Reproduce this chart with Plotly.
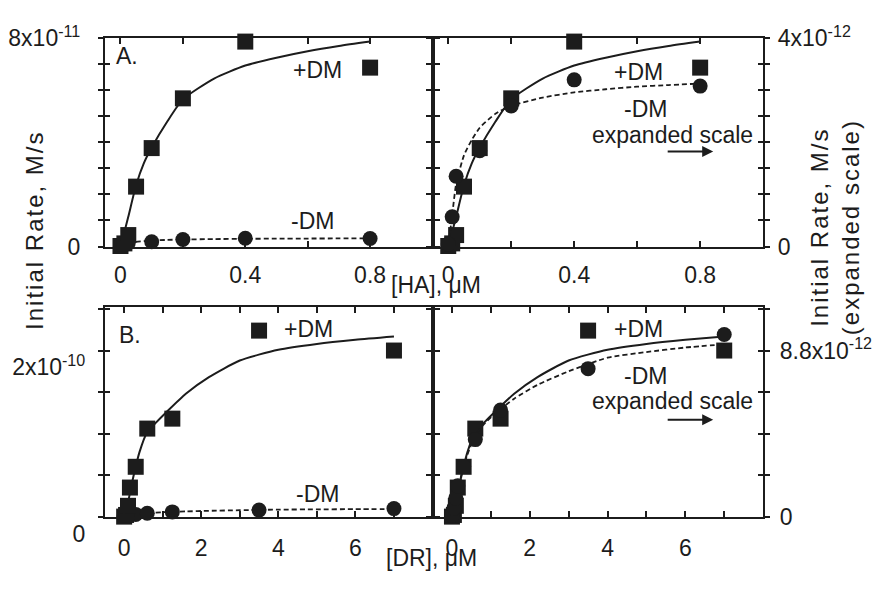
import plotly.graph_objects as go

# ---------------- data ----------------
# Panel A: initial rate vs [HA] (uM)
ha_plus_x = [0, 0.0125, 0.025, 0.05, 0.1, 0.2, 0.4, 0.8]
ha_plus_y = [0.02e-11, 0.12e-11, 0.44e-11, 2.30e-11, 3.78e-11, 5.69e-11, 7.87e-11, 6.87e-11]
ha_minus_x = [0, 0.0125, 0.025, 0.1, 0.2, 0.4, 0.8]
ha_minus_y = [0.05e-12, 0.57e-12, 1.35e-12, 1.84e-12, 2.70e-12, 3.20e-12, 3.08e-12]
ha_plus_fit_x = [0, 0.01, 0.025, 0.05, 0.075, 0.1, 0.15, 0.2, 0.3, 0.4, 0.5, 0.6, 0.7, 0.8]
ha_plus_fit_y = [0, 0.44e-11, 1.14e-11, 2.35e-11, 3.20e-11, 3.80e-11, 4.80e-11, 5.65e-11,
                 6.45e-11, 6.95e-11, 7.25e-11, 7.50e-11, 7.70e-11, 7.87e-11]
ha_minus_fit_x = [0, 0.0125, 0.025, 0.05, 0.075, 0.1, 0.15, 0.2, 0.3, 0.4, 0.5, 0.6, 0.7, 0.8]
ha_minus_fit_y = [0, 0.60e-12, 1.20e-12, 1.75e-12, 2.05e-12, 2.28e-12, 2.55e-12, 2.70e-12,
                  2.86e-12, 2.96e-12, 3.02e-12, 3.07e-12, 3.10e-12, 3.13e-12]

# Panel B: initial rate vs [DR] (uM)
dr_plus_x = [0, 0.05, 0.1, 0.15, 0.3, 0.6, 1.25, 3.5, 7.0]
dr_plus_y = [0, 0.02e-10, 0.13e-10, 0.35e-10, 0.60e-10, 1.06e-10, 1.18e-10, 2.24e-10, 2.00e-10]
dr_minus_x = [0, 0.05, 0.1, 0.15, 0.3, 0.6, 1.25, 3.5, 7.0]
dr_minus_y = [0.08e-12, 0.45e-12, 0.98e-12, 1.63e-12, 2.65e-12, 4.08e-12, 5.65e-12, 7.84e-12, 9.65e-12]
dr_fit_x = [0, 0.1, 0.2, 0.4, 0.6, 0.8, 1.1, 1.6, 2.2, 3.0, 4.0, 5.0, 6.0, 7.0]
dr_plus_fit_y = [0, 0.17e-10, 0.40e-10, 0.78e-10, 1.02e-10, 1.12e-10, 1.26e-10, 1.48e-10,
                 1.68e-10, 1.88e-10, 2.01e-10, 2.08e-10, 2.13e-10, 2.17e-10]
dr_minus_fit_y = [0, 1.0e-12, 1.9e-12, 3.3e-12, 4.3e-12, 4.85e-12, 5.45e-12, 6.25e-12,
                  6.98e-12, 7.70e-12, 8.42e-12, 8.72e-12, 8.96e-12, 9.13e-12]

# tick definitions
ha_ticks = [0, 0.2, 0.4, 0.6, 0.8, 1.0]
ha_ticktext = ["0", "", "0.4", "", "0.8", ""]
dr_ticks = [0, 1, 2, 3, 4, 5, 6, 7, 8]
dr_ticktext = ["0", "", "2", "", "4", "", "6", "", ""]
a_left_ticks = [0, 1e-11, 2e-11, 3e-11, 4e-11, 5e-11, 6e-11, 7e-11, 8e-11]
a_left_text = ["0", "", "", "", "", "", "", "", "8x10<sup>-11</sup>"]
a_right_ticks = [0, 0.5e-12, 1e-12, 1.5e-12, 2e-12, 2.5e-12, 3e-12, 3.5e-12, 4e-12]
a_right_text = ["0", "", "", "", "", "", "", "", "4x10<sup>-12</sup>"]
b_left_ticks = [0, 0.5e-10, 1e-10, 1.5e-10, 2e-10, 2.5e-10]
b_left_text = ["0", "", "", "", "2x10<sup>-10</sup>", ""]
b_right_ticks = [0, 2.2e-12, 4.4e-12, 6.6e-12, 8.8e-12, 11e-12]
b_right_text = ["0", "", "", "", "8.8x10<sup>-12</sup>", ""]

# ---------------- styling ----------------
FONT = "Liberation Sans, Arial, sans-serif"
INK = "#1c1c1c"
W, H = 872, 601
FS = 23


def px(x):
    return x / W


def py(y):
    return 1 - y / H


xL = [px(105), px(433)]
xR = [px(433), px(764)]
yT = [py(249), py(23)]
yB = [py(542), py(315)]

HA_RANGE = [-0.05, 1.0]
DR_RANGE = [-0.5, 8.0]
A_LEFT = [0, 8e-11]
A_RIGHT = [0, 4e-12]
B_LEFT = [0, 2.52e-10]
B_RIGHT = [0, 2.52e-10 / (2e-10 / 8.8e-12)]

tickfont = dict(size=FS, color=INK, family=FONT)


def xax(domain, anchor, rng, tv, tt, standoff):
    return dict(domain=domain, anchor=anchor, range=rng, showline=True, linecolor=INK,
                linewidth=2, mirror="ticks", ticks="inside", ticklen=6, tickwidth=1.5,
                tickcolor=INK, tickvals=tv, ticktext=tt, showgrid=False, zeroline=False,
                tickfont=tickfont, ticklabelstandoff=standoff, fixedrange=True)


def yax(domain, anchor, rng, tv, tt, labels, side="left", ticks="outside",
        overlaying=None, standoff=0, mirror="ticks", showline=True, tlpos=None):
    d = dict(domain=domain, anchor=anchor, range=rng, side=side, showline=showline,
             linecolor=INK, linewidth=2, mirror=mirror, ticks=ticks, ticklen=5,
             tickwidth=1.5, tickcolor=INK, tickvals=tv, ticktext=tt,
             showticklabels=labels, showgrid=False, zeroline=False, tickfont=tickfont,
             ticklabelstandoff=standoff, fixedrange=True)
    if overlaying:
        d["overlaying"] = overlaying
    if tlpos:
        d["ticklabelposition"] = tlpos
    return d


fig = go.Figure()


def line(x, y, xa, ya, dash=None, width=2):
    fig.add_trace(go.Scatter(x=x, y=y, xaxis=xa, yaxis=ya, mode="lines",
                             line=dict(color=INK, width=width, dash=dash, shape="spline", smoothing=0.6),
                             showlegend=False, hoverinfo="skip"))


def marks(x, y, xa, ya, symbol, size):
    fig.add_trace(go.Scatter(x=x, y=y, xaxis=xa, yaxis=ya, mode="markers",
                             marker=dict(symbol=symbol, size=size, color=INK,
                                         line=dict(width=0)),
                             cliponaxis=False, showlegend=False, hoverinfo="skip"))


def empty(xa, ya):
    fig.add_trace(go.Scatter(x=[], y=[], xaxis=xa, yaxis=ya, mode="markers",
                             showlegend=False, hoverinfo="skip"))


DASH = "5px,3px"
DW = 1.8

# Panel A, left (common scale)
line(ha_plus_fit_x, ha_plus_fit_y, "x", "y")
line(ha_minus_fit_x, ha_minus_fit_y, "x", "y", dash=DASH, width=DW)
marks(ha_minus_x, ha_minus_y, "x", "y", "circle", 15)
marks(ha_plus_x, ha_plus_y, "x", "y", "square", 16)
empty("x", "y7")

# Panel A, right (+DM on common scale, -DM on expanded scale)
line(ha_plus_fit_x, ha_plus_fit_y, "x2", "y2")
line(ha_minus_fit_x, ha_minus_fit_y, "x2", "y3", dash=DASH, width=DW)
marks(ha_minus_x, ha_minus_y, "x2", "y3", "circle", 15)
marks(ha_plus_x, ha_plus_y, "x2", "y2", "square", 16)
empty("x2", "y8")

# Panel B, left
line(dr_fit_x, dr_plus_fit_y, "x3", "y4")
line(dr_fit_x, dr_minus_fit_y, "x3", "y4", dash=DASH, width=DW)
marks(dr_minus_x, dr_minus_y, "x3", "y4", "circle", 15)
marks(dr_plus_x, dr_plus_y, "x3", "y4", "square", 16)
empty("x3", "y9")

# Panel B, right
line(dr_fit_x, dr_plus_fit_y, "x4", "y5")
line(dr_fit_x, dr_minus_fit_y, "x4", "y6", dash=DASH, width=DW)
marks(dr_minus_x, dr_minus_y, "x4", "y6", "circle", 15)
marks(dr_plus_x, dr_plus_y, "x4", "y5", "square", 16)
empty("x4", "y10")

layout = dict(
    width=W, height=H, autosize=False,
    margin=dict(l=0, r=0, t=0, b=0),
    paper_bgcolor="white", plot_bgcolor="white",
    font=dict(family=FONT, size=FS, color=INK),
    showlegend=False,
    xaxis=xax(xL, "y", HA_RANGE, ha_ticks, ha_ticktext, 7),
    xaxis2=xax(xR, "y2", HA_RANGE, ha_ticks, ha_ticktext, 7),
    xaxis3=xax(xL, "y4", DR_RANGE, dr_ticks, dr_ticktext, 10),
    xaxis4=xax(xR, "y5", DR_RANGE, dr_ticks, dr_ticktext, 10),
    # panel A left
    yaxis=yax(yT, "x", A_LEFT, a_left_ticks, a_left_text, True, standoff=13),
    yaxis7=yax(yT, "x", A_LEFT, a_left_ticks, a_left_text, False, ticks="inside", overlaying="y"),
    # panel A right
    yaxis2=yax(yT, "x2", A_LEFT, a_left_ticks, a_left_text, False),
    yaxis3=yax(yT, "x2", A_RIGHT, a_right_ticks, a_right_text, True, side="right",
               overlaying="y2", standoff=3, mirror=False),
    yaxis8=yax(yT, "x2", A_LEFT, a_left_ticks, a_left_text, False, ticks="inside", overlaying="y2"),
    # panel B left
    yaxis4=yax(yB, "x3", B_LEFT, b_left_ticks, b_left_text, True, standoff=13,
               tlpos="outside bottom"),
    yaxis9=yax(yB, "x3", B_LEFT, b_left_ticks, b_left_text, False, ticks="inside", overlaying="y4"),
    # panel B right
    yaxis5=yax(yB, "x4", B_LEFT, b_left_ticks, b_left_text, False),
    yaxis6=yax(yB, "x4", B_RIGHT, b_right_ticks, b_right_text, True, side="right",
               overlaying="y5", standoff=5, mirror=False),
    yaxis10=yax(yB, "x4", B_LEFT, b_left_ticks, b_left_text, False, ticks="inside", overlaying="y5"),
)
fig.update_layout(**layout)


def note(text, x, y, size=FS, angle=0):
    fig.add_annotation(text=text, x=px(x), y=py(y), xref="paper", yref="paper",
                       showarrow=False, xanchor="center", yanchor="middle",
                       textangle=angle, font=dict(size=size, color=INK, family=FONT))


note("A.", 127, 42)
note("B.", 130, 345)
note("+DM", 318, 57)
note("-DM", 313, 221)
note("+DM", 639, 60)
note("-DM", 646, 100)
note("expanded scale", 673, 128)
note("+DM", 309, 338)
note("-DM", 318, 517)
note("+DM", 639, 338)
note("-DM", 646, 389)
note("expanded scale", 673, 417)
note("[HA], \u03bcM", 436, 291)
note("[DR], \u03bcM", 432, 587)

SP = '<span style="letter-spacing:2px">'
note(SP + "Initial Rate, M/s</span>", 35, 231, size=24, angle=-90)
note(SP + "Initial Rate, M/s</span><br>" + SP + "(expanded scale)</span>", 836, 228,
     size=24, angle=-90)

for yy in (146, 437):
    fig.add_annotation(text="", x=px(714), y=py(yy), xref="paper", yref="paper",
                       ax=-47, ay=0, axref="pixel", ayref="pixel", showarrow=True,
                       arrowhead=2, arrowsize=1.1, arrowwidth=2, arrowcolor=INK)

fig.write_html("out.html")
